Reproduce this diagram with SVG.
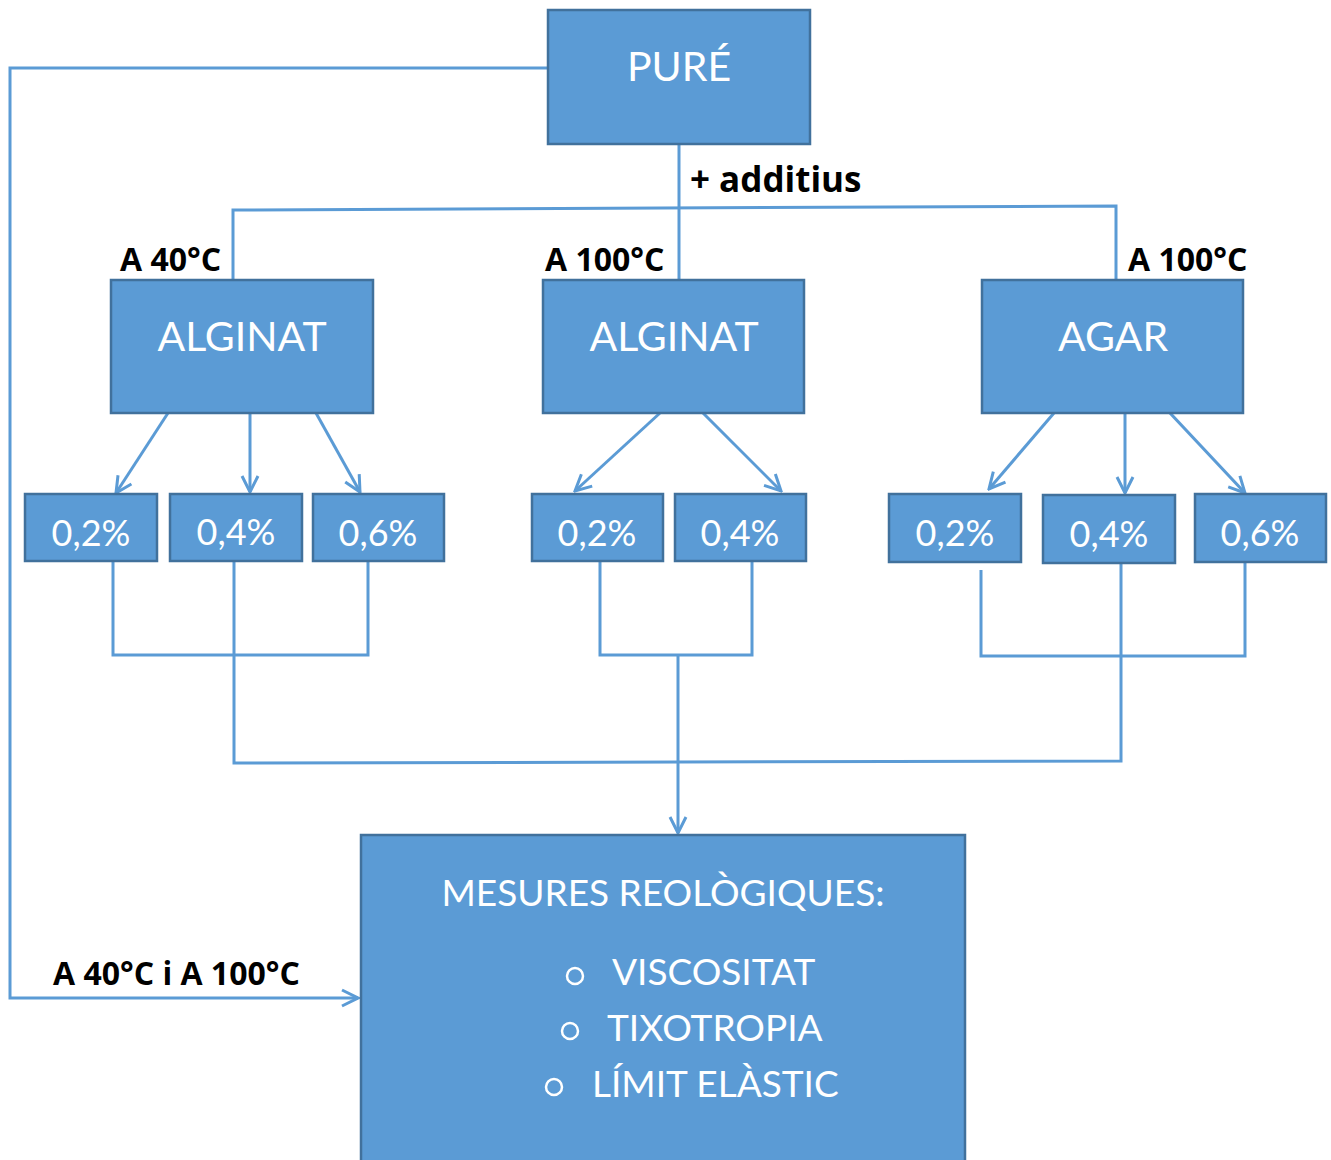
<svg xmlns="http://www.w3.org/2000/svg" width="1331" height="1160" viewBox="0 0 1331 1160">
<style>
.box{fill:#5B9BD5;stroke:#41719C;stroke-width:2.5}
.t{font-family:Lato,"Open Sans","Liberation Sans",sans-serif;fill:#fff;text-anchor:middle}
.big{font-size:41px}
.sm{font-size:36px}
.mt{font-size:37px}
.lbl{font-family:"Open Sans","Liberation Sans",sans-serif;font-weight:bold;font-size:32px;fill:#000}
.ln{fill:none;stroke:#5B9BD5;stroke-width:3}
</style>
<defs>
<marker id="ah" viewBox="0 0 20 20" refX="18" refY="10" markerWidth="20" markerHeight="20" markerUnits="userSpaceOnUse" orient="auto">
<path d="M2,2 L18,10 L2,18" fill="none" stroke="#5B9BD5" stroke-width="3"/>
</marker>
</defs>
<rect width="1331" height="1160" fill="#fff"/>
<g id="connectors">
<path class="ln" d="M548,68 H10 V998 H358" marker-end="url(#ah)"/>
<path class="ln" d="M679,144 V280"/>
<path class="ln" d="M233,280 V210 L1116,206 V280"/>
<path class="ln" d="M168,413 L116,493" marker-end="url(#ah)"/>
<path class="ln" d="M250,413 V492" marker-end="url(#ah)"/>
<path class="ln" d="M316,413 L360,492" marker-end="url(#ah)"/>
<path class="ln" d="M660,413 L575,491" marker-end="url(#ah)"/>
<path class="ln" d="M703,413 L781,491" marker-end="url(#ah)"/>
<path class="ln" d="M1054,413 L989,489" marker-end="url(#ah)"/>
<path class="ln" d="M1125,413 V493" marker-end="url(#ah)"/>
<path class="ln" d="M1170,413 L1245,493" marker-end="url(#ah)"/>
<path class="ln" d="M113,561 V655 H368 V561"/>
<path class="ln" d="M234,561 V763 L1121,761 V563"/>
<path class="ln" d="M600,561 V655 H752 V561"/>
<path class="ln" d="M678,655 V833" marker-end="url(#ah)"/>
<path class="ln" d="M981,570 V656 H1245 V562"/>
</g>
<g id="pure"><rect class="box" x="548" y="10" width="262" height="134"/><text class="t big" x="679" y="81">PURÉ</text></g>
<text class="lbl" x="690" y="192" style="font-size:35px">+ additius</text>
<text class="lbl" x="120" y="271">A 40°C</text>
<text class="lbl" x="545" y="271">A 100°C</text>
<text class="lbl" x="1128" y="271">A 100°C</text>
<g id="alginat1"><rect class="box" x="111" y="280" width="262" height="133"/><text class="t big" x="242" y="351">ALGINAT</text></g>
<g id="alginat2"><rect class="box" x="543" y="280" width="261" height="133"/><text class="t big" x="674" y="351">ALGINAT</text></g>
<g id="agar"><rect class="box" x="982" y="280" width="261" height="133"/><text class="t big" x="1113" y="351">AGAR</text></g>
<g id="a02"><rect class="box" x="25" y="494" width="132" height="67"/><text class="t sm" x="91" y="546">0,2%</text></g>
<g id="a04"><rect class="box" x="170" y="494" width="132" height="67"/><text class="t sm" x="236" y="545">0,4%</text></g>
<g id="a06"><rect class="box" x="313" y="494" width="131" height="67"/><text class="t sm" x="378" y="546">0,6%</text></g>
<g id="b02"><rect class="box" x="532" y="494" width="131" height="67"/><text class="t sm" x="597" y="546">0,2%</text></g>
<g id="b04"><rect class="box" x="675" y="494" width="131" height="67"/><text class="t sm" x="740" y="546">0,4%</text></g>
<g id="c02"><rect class="box" x="889" y="494" width="132" height="68"/><text class="t sm" x="955" y="546">0,2%</text></g>
<g id="c04"><rect class="box" x="1043" y="495" width="132" height="68"/><text class="t sm" x="1109" y="547">0,4%</text></g>
<g id="c06"><rect class="box" x="1195" y="494" width="131" height="68"/><text class="t sm" x="1260" y="546">0,6%</text></g>
<text class="lbl" x="53" y="985">A 40°C i A 100°C</text>
<g id="mesures"><rect class="box" x="361" y="835" width="604" height="340"/>
<text class="t mt" x="663" y="906">MESURES REOLÒGIQUES:</text>
<circle cx="575" cy="976" r="8" fill="none" stroke="#fff" stroke-width="2.5"/>
<text class="t mt" style="text-anchor:start" x="612" y="985">VISCOSITAT</text>
<circle cx="570" cy="1031" r="8" fill="none" stroke="#fff" stroke-width="2.5"/>
<text class="t mt" style="text-anchor:start" x="607" y="1041">TIXOTROPIA</text>
<circle cx="554" cy="1087" r="8" fill="none" stroke="#fff" stroke-width="2.5"/>
<text class="t mt" style="text-anchor:start" x="592" y="1097">LÍMIT ELÀSTIC</text>
</g>
</svg>
